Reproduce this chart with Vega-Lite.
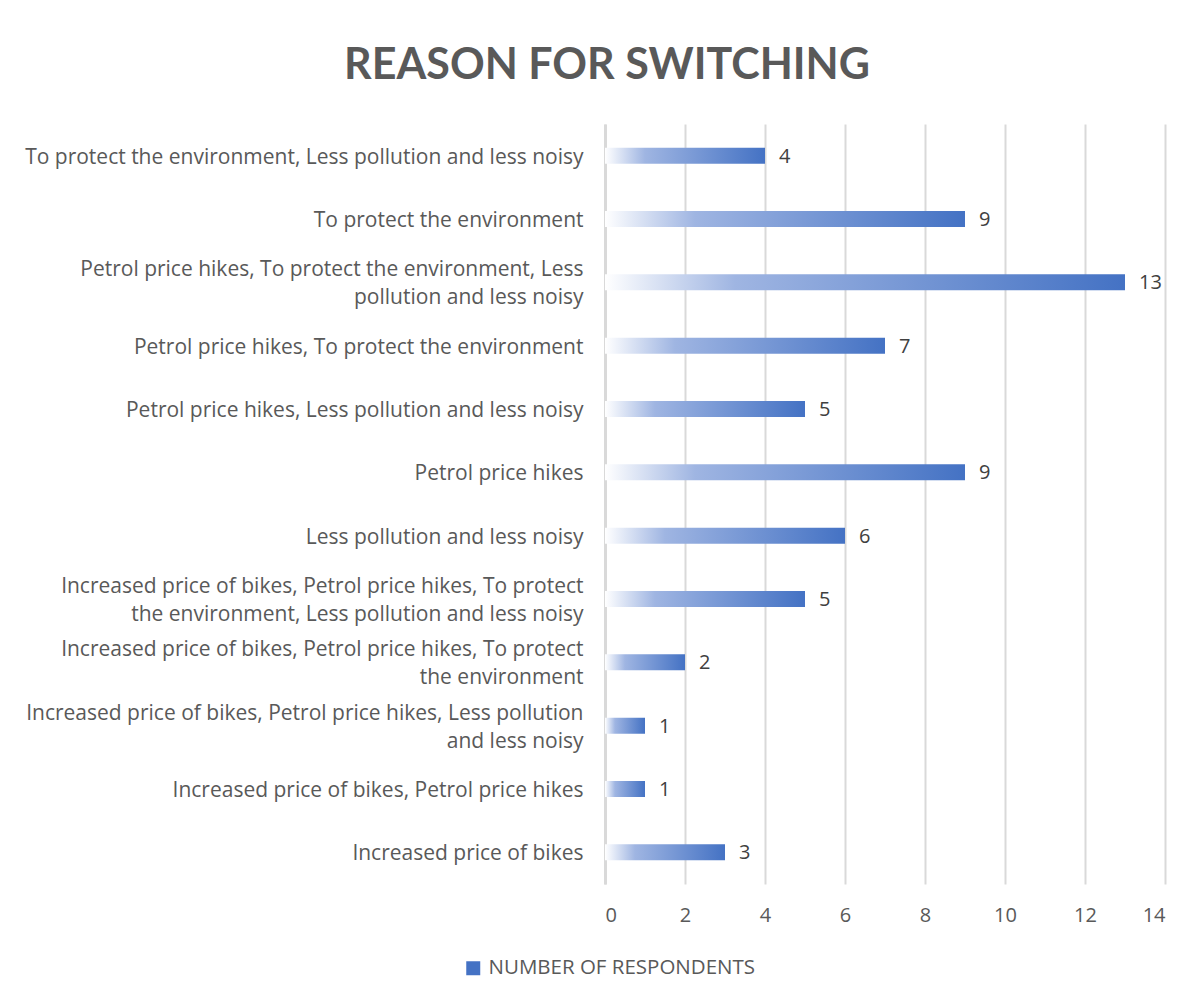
{
  "$schema": "https://vega.github.io/schema/vega-lite/v6.json",
  "width": 560,
  "height": 760,
  "autosize": {"type": "none"},
  "padding": {"left": 605, "top": 124, "right": 30, "bottom": 115},
  "background": "white",
  "title": {
    "text": "REASON FOR SWITCHING",
    "font": "Lato",
    "fontSize": 43,
    "fontWeight": "bold",
    "color": "#595959",
    "anchor": "middle",
    "frame": "group",
    "dx": -278,
    "offset": 36
  },
  "data": {
    "values": [
      {"reason": "To protect the environment, Less pollution and less noisy", "respondents": 4},
      {"reason": "To protect the environment", "respondents": 9},
      {"reason": "Petrol price hikes, To protect the environment, Less|pollution and less noisy", "respondents": 13},
      {"reason": "Petrol price hikes, To protect the environment", "respondents": 7},
      {"reason": "Petrol price hikes, Less pollution and less noisy", "respondents": 5},
      {"reason": "Petrol price hikes", "respondents": 9},
      {"reason": "Less pollution and less noisy", "respondents": 6},
      {"reason": "Increased price of bikes, Petrol price hikes, To protect|the environment, Less pollution and less noisy", "respondents": 5},
      {"reason": "Increased price of bikes, Petrol price hikes, To protect|the environment", "respondents": 2},
      {"reason": "Increased price of bikes, Petrol price hikes, Less pollution|and less noisy", "respondents": 1},
      {"reason": "Increased price of bikes, Petrol price hikes", "respondents": 1},
      {"reason": "Increased price of bikes", "respondents": 3}
    ]
  },
  "encoding": {
    "y": {
      "field": "reason",
      "type": "nominal",
      "sort": null,
      "title": null,
      "scale": {"paddingInner": 0.75, "paddingOuter": 0.375},
      "axis": {
        "labelExpr": "split(datum.label, '|')",
        "labelFont": "Open Sans",
        "labelFontSize": 21,
        "labelColor": "#595959",
        "labelPadding": 22,
        "labelLineHeight": 28,
        "labelBaseline": "middle",
        "labelOffset": {"condition": {"test": "indexof(datum.value, '|') >= 0", "value": -12}, "value": 2},
        "labelLimit": 700,
        "ticks": false,
        "domainColor": "#d9d9d9",
        "domainWidth": 3,
        "grid": false
      }
    },
    "x": {
      "field": "respondents",
      "type": "quantitative",
      "title": null,
      "scale": {"domain": [0, 14]},
      "axis": {
        "values": [0, 2, 4, 6, 8, 10, 12, 14],
        "labelFont": "Open Sans",
        "labelFontSize": 20,
        "labelColor": "#595959",
        "labelPadding": 21,
        "ticks": false,
        "domain": false,
        "grid": true,
        "gridColor": "#d9d9d9",
        "gridWidth": 2
      }
    }
  },
  "layer": [
    {
      "mark": {
        "type": "bar",
        "size": 16,
        "color": {
          "gradient": "linear",
          "x1": 0, "y1": 0, "x2": 1, "y2": 0,
          "stops": [
            {"offset": 0, "color": "#ffffff"},
            {"offset": 0.25, "color": "#9fb5e2"},
            {"offset": 1, "color": "#4472C4"}
          ]
        }
      }
    },
    {
      "mark": {"type": "bar", "size": 16, "opacity": 0},
      "encoding": {
        "color": {
          "datum": "NUMBER OF RESPONDENTS",
          "type": "nominal",
          "scale": {"range": ["#4472C4"]},
          "legend": {
            "title": null,
            "orient": "none",
            "legendX": -142,
            "legendY": 834,
            "symbolType": "square",
            "symbolSize": 196,
            "symbolOpacity": 1,
            "symbolStrokeWidth": 0,
            "labelFont": "Open Sans",
            "labelFontSize": 20.5,
            "labelColor": "#595959",
            "labelOffset": 5,
            "labelLimit": 400
          }
        }
      }
    },
    {
      "mark": {
        "type": "text",
        "align": "left",
        "baseline": "middle",
        "dx": 14,
        "dy": 1,
        "font": "Open Sans",
        "fontSize": 20,
        "color": "#404040"
      },
      "encoding": {
        "text": {"field": "respondents", "type": "quantitative"}
      }
    }
  ],
  "config": {"view": {"stroke": null}}
}
